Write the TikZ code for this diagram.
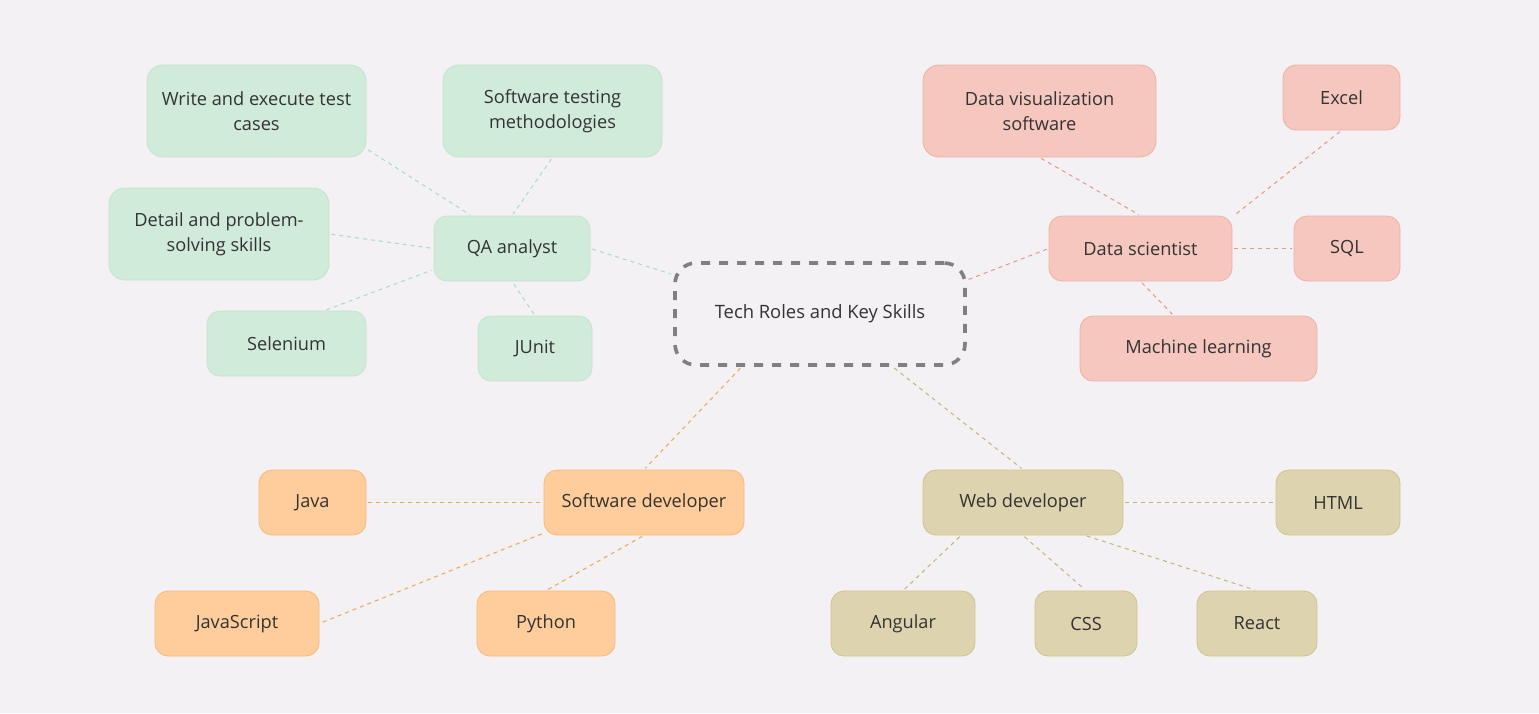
\documentclass[tikz,border=0pt]{standalone}
\usepackage{fontspec}
\setmainfont{Open Sans}
\definecolor{bg}{HTML}{F3F1F3}
\definecolor{txt}{HTML}{333333}
\definecolor{qafill}{HTML}{D1EBDA}
\definecolor{qadraw}{HTML}{C3E4CE}
\definecolor{qaline}{HTML}{A9D9D2}
\definecolor{dsfill}{HTML}{F5C7BF}
\definecolor{dsdraw}{HTML}{EEB0A6}
\definecolor{dsline}{HTML}{E8958A}
\definecolor{sdfill}{HTML}{FFCD9B}
\definecolor{sddraw}{HTML}{F5BA7C}
\definecolor{sdline}{HTML}{F0A555}
\definecolor{wdfill}{HTML}{DED3AF}
\definecolor{wddraw}{HTML}{D0C391}
\definecolor{wdline}{HTML}{C4B475}
\definecolor{cgray}{HTML}{808080}
\begin{document}
\begin{tikzpicture}[x=1pt,y=-1pt,
  box/.style={rounded corners=13pt, line width=0.8pt, minimum height=65pt, inner sep=0pt,
    align=center, text=txt, font=\fontsize{18.2}{25}\selectfont},
  qabox/.style={box, fill=qafill, draw=qadraw},
  dsbox/.style={box, fill=dsfill, draw=dsdraw},
  sdbox/.style={box, fill=sdfill, draw=sddraw},
  wdbox/.style={box, fill=wdfill, draw=wddraw},
  big/.style={minimum height=92pt, rounded corners=16pt},
  link/.style={line width=1pt, dash pattern=on 4pt off 4pt, shorten <=2pt, shorten >=2pt},
  qalink/.style={link, draw=qaline},
  dslink/.style={link, draw=dsline},
  sdlink/.style={link, draw=sdline},
  wdlink/.style={link, draw=wdline}]
\fill[bg] (0,0) rectangle (1539,713);
\useasboundingbox (0,0) rectangle (1539,713);

% central
\node[draw=cgray, line width=3.6pt, dash pattern=on 9pt off 9pt, rounded corners=21pt,
  minimum width=290pt, minimum height=102pt, inner sep=0pt, text=txt,
  font=\fontsize{18.4}{22}\selectfont] (root) at (820,314) {Tech Roles and Key Skills};

% QA analyst
\node[qabox, minimum width=156pt] (qa) at (512,248.5) {QA analyst};
\node[qabox, big, minimum width=219pt] (write) at (256.5,111) {Write and execute test\\cases};
\node[qabox, big, minimum width=219pt] (stm) at (552.5,111) {Software testing\\methodologies};
\node[qabox, big, minimum width=220pt] (detail) at (219,234) {Detail and problem-\\solving skills};
\node[qabox, minimum width=159pt] (sel) at (286.5,343.5) {Selenium};
\node[qabox, minimum width=114pt] (junit) at (535,348.5) {JUnit};

% Data scientist
\node[dsbox, minimum width=183pt] (ds) at (1140.5,248.5) {Data scientist};
\node[dsbox, big, minimum width=233pt] (dviz) at (1039.5,111) {Data visualization\\software};
\node[dsbox, minimum width=117pt] (excel) at (1341.5,97.5) {Excel};
\node[dsbox, minimum width=106pt] (sql) at (1347,248.5) {SQL};
\node[dsbox, minimum width=237pt] (ml) at (1198.5,348.5) {Machine learning};

% Software developer
\node[sdbox, minimum width=200pt] (sd) at (644,502.5) {Software developer};
\node[sdbox, minimum width=107pt] (java) at (312.5,502.5) {Java};
\node[sdbox, minimum width=164pt] (js) at (237,623.5) {JavaScript};
\node[sdbox, minimum width=138pt] (py) at (546,623.5) {Python};

% Web developer
\node[wdbox, minimum width=200pt] (wd) at (1023,502.5) {Web developer};
\node[wdbox, minimum width=124pt] (html) at (1338,502.5) {HTML};
\node[wdbox, minimum width=144pt] (ang) at (903,623.5) {Angular};
\node[wdbox, minimum width=102pt] (css) at (1086,623.5) {CSS};
\node[wdbox, minimum width=120pt] (react) at (1257,623.5) {React};

% connectors
\draw[qalink] (qa.0) -- (root.165);
\draw[qalink] (write.-19) -- (qa.141);
\draw[qalink] (stm.south) -- (qa.north);
\draw[qalink] (detail.east) -- (qa.west);
\draw[qalink] (sel.41) -- (qa.195);
\draw[qalink] (junit.north) -- (qa.south);

\draw[dslink] (root.13) -- (ds.west);
\draw[dslink] (dviz.south) -- (ds.north);
\draw[dslink] (excel.south) -- (ds.19);
\draw[dslink] (ds.east) -- (sql.west);
\draw[dslink] (ds.south) -- (ml.127);

\draw[sdlink] (root.214) -- (sd.north);
\draw[sdlink] (java.east) -- (sd.west);
\draw[sdlink] (sd.197) -- (js.east);
\draw[sdlink] (sd.south) -- (py.north);

\draw[wdlink] (root.324) -- (wd.north);
\draw[wdlink] (wd.east) -- (html.west);
\draw[wdlink] (wd.208) -- (ang.north);
\draw[wdlink] (wd.south) -- (css.north);
\draw[wdlink] (wd.332) -- (react.north);
\end{tikzpicture}
\end{document}
